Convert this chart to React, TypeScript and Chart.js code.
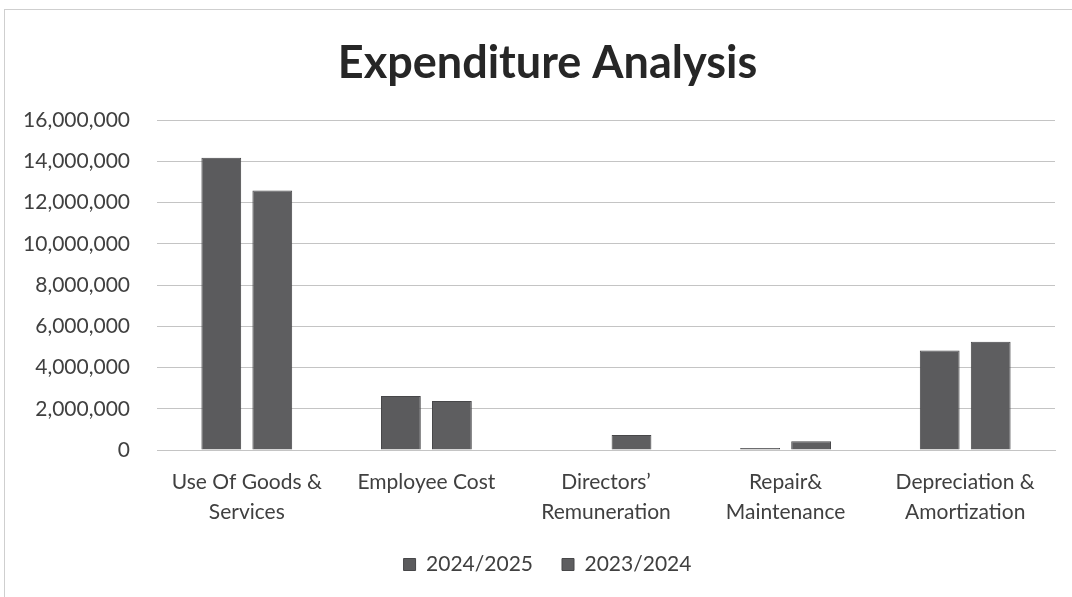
import React, { useEffect, useRef } from "react";
import { Chart, registerables } from "chart.js";

Chart.register(...registerables);

const categories: string[][] = [
  ["Use Of Goods &", "Services"],
  ["Employee Cost"],
  ["Directors\u2019", "Remuneration"],
  ["Repair&", "Maintenance"],
  ["Depreciation &", "Amortization"],
];
const series2024_2025: number[] = [14170000, 2620000, 0, 100000, 4820000];
const series2023_2024: number[] = [12580000, 2380000, 730000, 420000, 5250000];
const seriesLabels: string[] = ["2024/2025", "2023/2024"];
const yTicks = { min: 0, max: 16000000, step: 2000000 };

const FONT = "Lato, 'Open Sans', sans-serif";

// shifts the centred title and legend slightly to the right, as in the reference
const shiftPlugin = {
  id: "shiftHeader",
  afterLayout(chart: any) {
    const dx = 10;
    for (const b of [chart.titleBlock, chart.legend]) {
      if (b) {
        b.left += dx;
        b.right += dx;
      }
    }
  },
};

export default function App() {
  const ref = useRef<HTMLCanvasElement | null>(null);
  useEffect(() => {
    if (!ref.current) return;
    const common = {
      borderColor: "#474749",
      borderWidth: 1,
      barPercentage: 0.78,
      categoryPercentage: 0.568,
    };
    const chart = new Chart(ref.current, {
      type: "bar",
      data: {
        labels: categories,
        datasets: [
          { label: seriesLabels[0], data: series2024_2025, backgroundColor: "#5b5b5d", ...common },
          { label: seriesLabels[1], data: series2023_2024, backgroundColor: "#5e5e60", ...common },
        ],
      },
      plugins: [shiftPlugin],
      options: {
        responsive: false,
        animation: false,
        layout: { padding: { left: 20, right: 17, top: 10, bottom: 12 } },
        plugins: {
          title: {
            display: true,
            text: "Expenditure Analysis",
            color: "#262626",
            font: { family: FONT, size: 45, weight: "bold", lineHeight: 1.2 },
            padding: { top: 26, bottom: 30 },
          },
          legend: {
            position: "bottom",
            labels: {
              color: "#404040",
              font: { family: FONT, size: 21 },
              boxWidth: 12,
              boxHeight: 12,
              padding: 29,
            },
          },
          tooltip: { enabled: false },
        },
        scales: {
          x: {
            grid: { display: false, drawTicks: false },
            border: { color: "#c4c4c4" },
            afterFit: (s: any) => {
              s.height = 75;
            },
            ticks: {
              color: "#404040",
              font: { family: FONT, size: 21, lineHeight: 1.43 },
              padding: 17,
              maxRotation: 0,
              autoSkip: false,
            },
          },
          y: {
            min: yTicks.min,
            max: yTicks.max,
            grid: { color: "#c4c4c4", drawTicks: false },
            border: { display: false },
            afterFit: (s: any) => {
              s.width = 137;
            },
            ticks: {
              stepSize: yTicks.step,
              color: "#404040",
              padding: 27,
              font: { family: FONT, size: 21 },
              callback: (v: any) => Number(v).toLocaleString("en-US"),
            },
          },
        },
      },
    });
    return () => chart.destroy();
  }, []);
  return (
    <div style={{ position: "fixed", left: 0, top: 0, width: 1072, height: 597, background: "#fff" }}>
      <div
        style={{
          position: "absolute",
          left: 4,
          top: 9,
          width: 1072,
          height: 597,
          borderLeft: "1px solid #cfcfcf",
          borderTop: "1px solid #cfcfcf",
        }}
      />
      <canvas ref={ref} width={1072} height={597} style={{ position: "absolute", left: 0, top: 0 }} />
    </div>
  );
}
